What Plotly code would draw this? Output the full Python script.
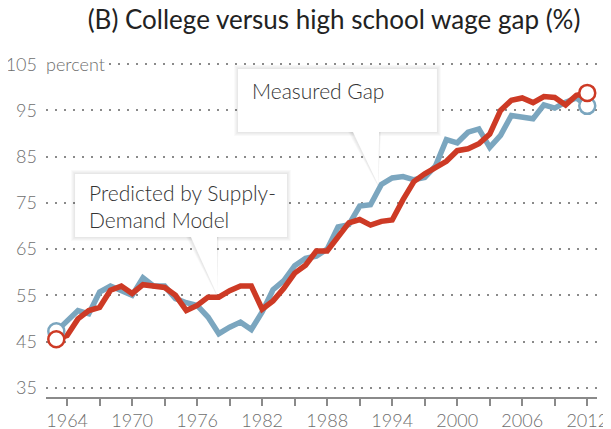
import plotly.graph_objects as go

# data
years = list(range(1963, 2013))
measured_gap = [
    47.2, 49.5, 51.7, 51.0, 55.7, 57.0, 56.0, 55.0, 58.8, 57.0,
    57.0, 54.3, 53.4, 52.8, 50.3, 46.7, 48.1, 49.2, 47.6, 51.4,
    56.2, 58.2, 61.4, 63.0, 63.5, 65.0, 69.8, 70.3, 74.3, 74.6,
    79.0, 80.4, 80.7, 80.0, 80.5, 83.0, 88.7, 88.0, 90.3, 91.0,
    87.0, 89.6, 93.9, 93.6, 93.2, 96.2, 95.5, 96.8, 97.7, 96.0,
]
predicted_gap = [
    45.5, 46.3, 49.9, 51.7, 52.4, 56.1, 57.0, 55.4, 57.3, 57.0,
    56.7, 55.0, 51.7, 52.8, 54.6, 54.6, 56.0, 57.0, 57.0, 52.0,
    53.8, 56.5, 59.8, 61.5, 64.6, 64.6, 67.5, 70.7, 71.4, 70.2,
    71.0, 71.3, 75.7, 79.6, 81.3, 82.5, 84.0, 86.3, 86.7, 87.8,
    89.9, 95.0, 97.2, 97.7, 96.7, 98.0, 97.8, 96.2, 98.3, 98.8,
]
x_tick_years = list(range(1964, 2013, 3))
x_tick_labels = [str(y) if (y - 1964) % 6 == 0 else "" for y in x_tick_years]
y_tick_values = [35, 45, 55, 65, 75, 85, 95, 105]

BLUE = "#7ba6bf"
RED = "#cd3a25"
GREY = "#6e6e6e"
FONT = "Lato"

# page body has an 8px margin, so the figure is a bit smaller and shifted
FIG_W, FIG_H = 603, 421
X_RANGE = [1962.05, 2012.9]
Y_RANGE = [33, 107]
PLOT_W, PLOT_H = 551, 342


def px_x(n):
    return n * (X_RANGE[1] - X_RANGE[0]) / PLOT_W


def px_y(n):
    return n * (Y_RANGE[1] - Y_RANGE[0]) / PLOT_H


fig = go.Figure()

fig.add_trace(go.Scatter(x=years, y=measured_gap, mode="lines",
                         line=dict(color=BLUE, width=5.5), hoverinfo="skip"))
fig.add_trace(go.Scatter(x=years, y=predicted_gap, mode="lines",
                         line=dict(color=RED, width=5.5), hoverinfo="skip"))
# hollow end markers
fig.add_trace(go.Scatter(x=[years[0], years[-1]], y=[measured_gap[0], measured_gap[-1]],
                         mode="markers", hoverinfo="skip",
                         marker=dict(size=16, color="white", line=dict(color=BLUE, width=2.5))))
fig.add_trace(go.Scatter(x=[years[0], years[-1]], y=[predicted_gap[0], predicted_gap[-1]],
                         mode="markers", hoverinfo="skip",
                         marker=dict(size=16, color="white", line=dict(color=RED, width=2.5))))


def callout(x0, x1, y_top, y_bot, base_l, base_r, tip_x, tip_y):
    # soft shadow
    for i in (4, 3, 2, 1):
        fig.add_shape(type="rect", xref="x", yref="y", layer="between",
                      x0=x0 - px_x(i), x1=x1 + px_x(i), y0=y_bot - px_y(i), y1=y_top + px_y(i),
                      fillcolor="rgba(0,0,0,0.025)", line_width=0)
        fig.add_shape(type="path", xref="x", yref="y", layer="between",
                      path=f"M {base_l - px_x(i)},{y_bot} L {tip_x},{tip_y - px_y(i / 2)} L {base_r + px_x(i / 2)},{y_bot} Z",
                      fillcolor="rgba(0,0,0,0.025)", line_width=0)
    fig.add_shape(type="rect", xref="x", yref="y", layer="between",
                  x0=x0, x1=x1, y0=y_bot, y1=y_top, fillcolor="white", line_width=0)
    fig.add_shape(type="path", xref="x", yref="y", layer="between",
                  path=f"M {base_l},{y_bot + px_y(2)} L {tip_x},{tip_y} L {base_r},{y_bot + px_y(2)} Z",
                  fillcolor="white", line_width=0)


callout(1979.77, 1998.13, 103.97, 90.35, 1990.29, 1992.8, 1992.7, 78.9)
callout(1964.73, 1984.29, 81.26, 67.64, 1975.34, 1977.83, 1977.83, 55.1)

fig.add_annotation(x=1980.88, y=99.4, xref="x", yref="y", xanchor="left", yanchor="middle",
                   text="Measured Gap", showarrow=False, align="left",
                   font=dict(family=FONT, size=21, weight=300, color="#333333"))
fig.add_annotation(x=1965.83, y=74.3, xref="x", yref="y", xanchor="left", yanchor="middle",
                   text="Predicted by Supply-<br>Demand Model", showarrow=False, align="left",
                   font=dict(family=FONT, size=21, weight=300, color="#333333"))
fig.add_annotation(x=0, y=105, xref="paper", yref="y", xanchor="left", yanchor="middle",
                   text="percent", showarrow=False, bgcolor="white", borderpad=1, xshift=-2,
                   font=dict(family=FONT, size=18, weight=300, color=GREY))

fig.update_layout(
    width=FIG_W, height=FIG_H,
    margin=dict(l=38, r=14, t=47, b=32),
    paper_bgcolor="white", plot_bgcolor="white",
    showlegend=False,
    title=dict(text="(B) College versus high school wage gap (%)",
               x=326 / FIG_W, xanchor="center", y=1 - 12 / FIG_H, yanchor="middle",
               font=dict(family=FONT, size=26, weight=400, color="#222222")),
    xaxis=dict(range=X_RANGE, tickvals=x_tick_years, ticktext=x_tick_labels, automargin=False,
               showgrid=False, zeroline=False, showline=True, linecolor="#8a8a8a", linewidth=1.5,
               ticks="outside", ticklen=7, tickwidth=1.5, tickcolor="#8a8a8a",
               tickfont=dict(family=FONT, size=18, weight=300, color=GREY)),
    yaxis=dict(range=Y_RANGE, tickvals=y_tick_values, showline=False, zeroline=False, automargin=False,
               showgrid=True, gridcolor="#8a8a8a", gridwidth=2, griddash="2px,7px",
               ticks="", ticklabelstandoff=8,
               tickfont=dict(family=FONT, size=18, weight=300, color=GREY)),
)

fig.write_html("out.html")
